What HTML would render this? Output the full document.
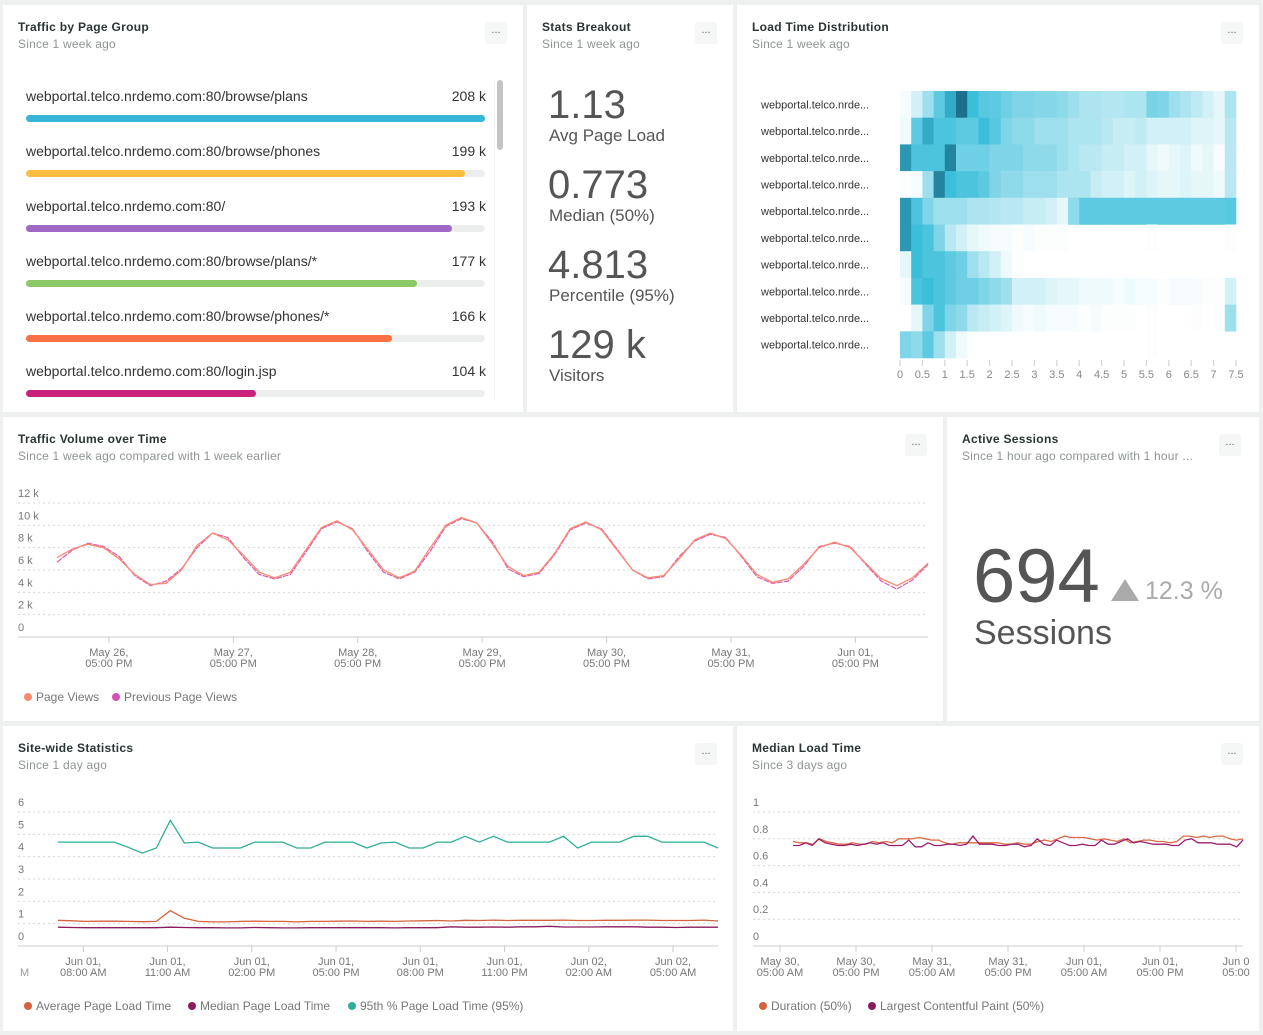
<!DOCTYPE html>
<html><head><meta charset="utf-8">
<style>
body{margin:0;width:1263px;height:1035px;background:#eef0f0;font-family:"Liberation Sans",sans-serif;position:relative;overflow:hidden}
.p{position:absolute;background:#fff}
.t{position:absolute;left:15px;top:15px;font-size:12px;color:#2a3434;font-weight:600;letter-spacing:0.3px}
.s{position:absolute;left:15px;top:32px;font-size:12px;color:#8e9494;white-space:nowrap;letter-spacing:0.2px}
.m{position:absolute;width:22px;height:22px;top:17px;background:#f5f6f6;border-radius:3px;color:#666;font-size:11px;text-align:center;line-height:16px}
.a{position:absolute;white-space:nowrap}
svg{position:absolute;left:0;top:0}
</style></head><body>

<div class="p" style="left:3px;top:5px;width:520px;height:407px;overflow:hidden">
 <div class="t">Traffic by Page Group</div>
 <div class="s">Since 1 week ago</div>
 <div class="m" style="left:482px">...</div>
 <div id="bars"></div>
 <div class="a" style="left:491px;top:75px;width:12px;height:320px;border-left:1px solid #eee"></div>
 <div class="a" style="left:494px;top:75px;width:6px;height:70px;background:#c4c4c4;border-radius:3px"></div>
</div>

<div class="p" style="left:527px;top:5px;width:206px;height:407px">
 <div class="t">Stats Breakout</div>
 <div class="s">Since 1 week ago</div>
 <div class="m" style="left:168px">...</div>
 <div class="a" style="left:21px;top:78px;font-size:40px;color:#555">1.13</div>
 <div class="a" style="left:22px;top:121px;font-size:17px;color:#555">Avg Page Load</div>
 <div class="a" style="left:21px;top:158px;font-size:40px;color:#555">0.773</div>
 <div class="a" style="left:22px;top:201px;font-size:17px;color:#555">Median (50%)</div>
 <div class="a" style="left:21px;top:238px;font-size:40px;color:#555">4.813</div>
 <div class="a" style="left:22px;top:281px;font-size:17px;color:#555">Percentile (95%)</div>
 <div class="a" style="left:21px;top:318px;font-size:40px;color:#555">129 k</div>
 <div class="a" style="left:22px;top:361px;font-size:17px;color:#555">Visitors</div>
</div>

<div class="p" style="left:737px;top:5px;width:522px;height:407px">
 <div class="t">Load Time Distribution</div>
 <div class="s">Since 1 week ago</div>
 <div class="m" style="left:484px">...</div>
</div>

<div class="p" style="left:3px;top:417px;width:940px;height:304px">
 <div class="t">Traffic Volume over Time</div>
 <div class="s">Since 1 week ago compared with 1 week earlier</div>
 <div class="m" style="left:902px">...</div>
</div>

<div class="p" style="left:947px;top:417px;width:312px;height:304px">
 <div class="t">Active Sessions</div>
 <div class="s">Since 1 hour ago compared with 1 hour ...</div>
 <div class="m" style="left:272px">...</div>
 <div class="a" style="left:26px;top:116px;font-size:76px;color:#555">694</div>
 <div class="a" style="left:164px;top:162px;width:0;height:0;border-left:14px solid transparent;border-right:14px solid transparent;border-bottom:22px solid #aaa"></div>
 <div class="a" style="left:198px;top:160px;font-size:25px;color:#aaa">12.3 %</div>
 <div class="a" style="left:27px;top:197px;font-size:34px;color:#555">Sessions</div>
</div>

<div class="p" style="left:3px;top:726px;width:730px;height:305px">
 <div class="t">Site-wide Statistics</div>
 <div class="s">Since 1 day ago</div>
 <div class="m" style="left:692px">...</div>
</div>

<div class="p" style="left:737px;top:726px;width:522px;height:305px">
 <div class="t">Median Load Time</div>
 <div class="s">Since 3 days ago</div>
 <div class="m" style="left:484px">...</div>
</div>

<svg id="g" width="1263" height="1035" style="font-family:'Liberation Sans',sans-serif"></svg>

<script>
const pageNames=["webportal.telco.nrdemo.com:80/browse/plans","webportal.telco.nrdemo.com:80/browse/phones","webportal.telco.nrdemo.com:80/","webportal.telco.nrdemo.com:80/browse/plans/*","webportal.telco.nrdemo.com:80/browse/phones/*","webportal.telco.nrdemo.com:80/login.jsp"];
const pageValues=[208,199,193,177,166,104];
const pageColors=["#36b6d6","#fcbd3f","#a067c4","#8bc967","#fa7044","#c9207b"];
const pageViews=[7.1,7.9,8.3,8.0,7.0,5.6,4.7,4.8,6.0,8.2,9.3,8.7,7.3,5.8,5.3,5.8,7.8,9.8,10.4,9.6,7.8,6.0,5.3,5.9,8.0,10.0,10.7,10.2,8.3,6.3,5.5,5.8,7.5,9.7,10.3,9.6,7.8,6.0,5.3,5.5,7.0,8.7,9.3,8.8,7.3,5.6,4.9,5.2,6.5,8.0,8.5,8.0,6.6,5.2,4.6,5.3,6.6];
const prevPageViews=[6.7,7.8,8.4,8.1,7.2,5.5,4.6,5.0,6.1,8.0,9.3,8.9,7.1,5.6,5.2,5.6,7.6,9.7,10.3,9.7,7.6,5.8,5.2,5.8,7.7,9.9,10.6,10.2,8.5,6.1,5.4,5.7,7.4,9.6,10.2,9.7,7.9,6.0,5.2,5.4,7.2,8.6,9.2,8.9,7.2,5.4,4.8,5.0,6.3,8.1,8.4,8.1,6.5,5.0,4.3,5.1,6.5];
const trafficYTicks=[0,2,4,6,8,10,12];
const trafficXLabels=["May 26,","May 27,","May 28,","May 29,","May 30,","May 31,","Jun 01,"];
const trafficXHours=[10,34,58,82,106,130,154];
const heatRows=["webportal.telco.nrde...","webportal.telco.nrde...","webportal.telco.nrde...","webportal.telco.nrde...","webportal.telco.nrde...","webportal.telco.nrde...","webportal.telco.nrde...","webportal.telco.nrde...","webportal.telco.nrde...","webportal.telco.nrde..."];
const heatTicks=[0,0.5,1,1.5,2,2.5,3,3.5,4,4.5,5,5.5,6,6.5,7,7.5];
const heatBinSize=0.25;
const heatVals=[
[.1,.3,.5,.7,.85,1,.8,.72,.7,.65,.6,.6,.58,.58,.55,.5,.45,.45,.42,.42,.45,.45,.62,.6,.5,.45,.38,.3,.2,.45],
[.15,.7,.85,.75,.75,.7,.7,.8,.72,.6,.55,.55,.5,.5,.5,.45,.45,.45,.4,.35,.35,.38,.3,.3,.3,.3,.25,.25,.2,.4],
[.9,.75,.75,.75,.95,.65,.65,.65,.6,.6,.6,.55,.55,.55,.5,.45,.4,.4,.35,.35,.3,.3,.2,.15,.2,.25,.15,.2,.1,.4],
[.05,.1,.5,.95,.8,.75,.75,.7,.6,.55,.55,.5,.5,.5,.45,.45,.45,.35,.3,.3,.25,.3,.25,.2,.2,.25,.2,.2,.15,.4],
[.9,.75,.6,.5,.5,.5,.45,.45,.42,.4,.4,.35,.35,.3,.2,.55,.7,.7,.7,.7,.7,.7,.7,.7,.7,.7,.7,.7,.7,.72],
[.9,.8,.75,.6,.4,.3,.2,.15,.1,.1,.05,.1,.05,.05,.05,0,0,0,0,0,0,0,.05,0,0,0,0,0,0,.05],
[.2,.8,.75,.75,.7,.65,.5,.4,.3,.15,.05,0,0,0,0,0,0,0,0,0,0,0,0,0,0,0,0,0,0,0],
[.1,.75,.8,.75,.7,.65,.65,.6,.55,.5,.3,.3,.3,.25,.2,.2,.15,.15,.15,.1,.15,.1,.1,.05,.1,.1,.1,.05,.05,.3],
[0,.2,.6,.75,.6,.55,.4,.35,.3,.25,.15,.1,.15,.1,.1,.1,.05,.1,.05,.05,.05,0,.05,0,0,0,.05,0,.05,.5],
[.6,.55,.7,.5,.3,.15,0,0,0,0,0,0,0,0,0,0,0,0,0,0,0,0,.05,0,0,0,0,0,0,0]];
const p95Load=[4.65,4.65,4.65,4.65,4.65,4.42,4.16,4.39,5.63,4.61,4.65,4.39,4.39,4.39,4.65,4.65,4.65,4.39,4.39,4.65,4.65,4.65,4.39,4.61,4.65,4.39,4.39,4.65,4.65,4.91,4.65,4.91,4.65,4.65,4.65,4.65,4.91,4.39,4.65,4.65,4.65,4.91,4.91,4.65,4.65,4.65,4.65,4.39];
const avgLoad=[1.15,1.13,1.1,1.11,1.11,1.1,1.09,1.1,1.58,1.24,1.1,1.08,1.08,1.1,1.11,1.1,1.1,1.08,1.1,1.1,1.11,1.12,1.1,1.11,1.1,1.12,1.13,1.14,1.12,1.15,1.14,1.16,1.14,1.15,1.15,1.15,1.16,1.14,1.14,1.15,1.15,1.16,1.16,1.14,1.14,1.14,1.16,1.12];
const medianLoad=[0.84,0.83,0.82,0.82,0.82,0.82,0.82,0.82,0.84,0.83,0.82,0.82,0.81,0.81,0.83,0.82,0.81,0.81,0.82,0.82,0.82,0.82,0.82,0.82,0.81,0.82,0.82,0.82,0.86,0.84,0.84,0.85,0.84,0.86,0.86,0.88,0.85,0.85,0.85,0.86,0.86,0.86,0.84,0.84,0.83,0.84,0.84,0.84];
const siteYTicks=[0,1,2,3,4,5,6];
const siteXLabels=["08:00 AM","11:00 AM","02:00 PM","05:00 PM","08:00 PM","11:00 PM","02:00 AM","05:00 AM"];
const siteXDates=["Jun 01,","Jun 01,","Jun 01,","Jun 01,","Jun 01,","Jun 01,","Jun 02,","Jun 02,"];
const siteXIdx=[1.8,7.8,13.8,19.8,25.8,31.8,37.8,43.8];
const durationVals=[0.78,0.77,0.77,0.76,0.80,0.78,0.77,0.76,0.76,0.77,0.76,0.76,0.78,0.77,0.78,0.77,0.80,0.80,0.80,0.81,0.80,0.79,0.79,0.77,0.76,0.77,0.77,0.77,0.77,0.77,0.77,0.77,0.76,0.76,0.77,0.76,0.76,0.78,0.79,0.78,0.80,0.82,0.81,0.81,0.81,0.80,0.79,0.80,0.79,0.78,0.80,0.77,0.78,0.79,0.79,0.78,0.78,0.77,0.78,0.82,0.82,0.81,0.82,0.81,0.82,0.82,0.80,0.79,0.80];
const lcpVals=[0.75,0.75,0.77,0.75,0.80,0.77,0.76,0.75,0.75,0.76,0.75,0.76,0.77,0.76,0.77,0.75,0.75,0.75,0.79,0.74,0.74,0.77,0.75,0.75,0.76,0.76,0.75,0.76,0.82,0.76,0.76,0.76,0.75,0.75,0.76,0.76,0.74,0.75,0.80,0.76,0.75,0.79,0.77,0.75,0.75,0.76,0.75,0.75,0.79,0.76,0.76,0.78,0.80,0.77,0.78,0.77,0.76,0.76,0.76,0.75,0.75,0.79,0.80,0.77,0.77,0.77,0.76,0.76,0.76,0.74,0.79];
const medYTicks=[0,0.2,0.4,0.6,0.8,1];
const medXLabels=["May 30,","May 30,","May 31,","May 31,","Jun 01,","Jun 01,","Jun 0"];
const medXTimes=["05:00 AM","05:00 PM","05:00 AM","05:00 PM","05:00 AM","05:00 PM","05:00"];
const medXHours=[-2,10,22,34,46,58,70];

const NS="http://www.w3.org/2000/svg";
const svg=document.getElementById('g');
function mk(tag,attrs,parent){const e=document.createElementNS(NS,tag);for(const k in attrs)e.setAttribute(k,attrs[k]);(parent||svg).appendChild(e);return e;}
function txt(x,y,s,size,fill,anchor){const e=mk('text',{x:x,y:y,'font-size':size,fill:fill,'text-anchor':anchor||'start'});e.textContent=s;return e;}

const barsDiv=document.getElementById('bars');
pageNames.forEach((n,i)=>{
 const y=79+i*55;
 const row=document.createElement('div');
 
 
 row.style.cssText=`position:absolute;left:23px;top:${y}px;width:460px;height:45px`;
 const maxV=pageValues[0];
 row.innerHTML=`<div style="position:absolute;left:0;top:4px;font-size:14px;color:#333;white-space:nowrap">${n}</div><div style="position:absolute;right:0;top:4px;font-size:14px;color:#333">${pageValues[i]} k</div><div style="position:absolute;left:0;top:31px;width:459px;height:7px;border-radius:4px;background:#eceeee"></div><div style="position:absolute;left:0;top:31px;width:${459*pageValues[i]/maxV}px;height:7px;border-radius:4px;background:${pageColors[i]}"></div>`;
 barsDiv.appendChild(row);
});

(function(){
 const x0=900,x1=1236,yTop=91,rh=26.7;
 const xs=v=>x0+(v/7.5)*(x1-x0);
 function col(v){
  if(v<=0)return '#ffffff';
  let a,b,t;
  if(v<=0.8){a=[255,255,255];b=[58,190,218];t=Math.pow(v/0.8,1.5);}else{a=[58,190,218];b=[28,112,140];t=(v-0.8)/0.2;}
  return `rgb(${Math.round(a[0]+(b[0]-a[0])*t)},${Math.round(a[1]+(b[1]-a[1])*t)},${Math.round(a[2]+(b[2]-a[2])*t)})`;
 }
 heatRows.forEach((r,i)=>{
  const cy=yTop+i*rh;
  const l=txt(761,cy+rh/2+4,r,11,'#333');
  
  
  heatVals[i].forEach((v,j)=>{
   if(v<=0)return;
   const c=mk('rect',{x:xs(j*heatBinSize),y:cy,width:xs((j+1)*heatBinSize)-xs(j*heatBinSize)+0.3,height:rh+0.3,fill:col(v)});
   
   
  });
 });
 heatTicks.forEach(t=>{
  mk('line',{x1:xs(t),x2:xs(t),y1:360,y2:366,stroke:'#ccc'});
  const l=txt(xs(t),378,String(t),11,'#888','middle');
  
  
 });
})();

function grid(x0,x1,y){mk('line',{x1:x0,x2:x1,y1:y,y2:y,stroke:'#d5d8d8','stroke-dasharray':'2,3'});}
function path(pts,color,name,w){const p=mk('path',{d:'M'+pts.map(p=>p[0].toFixed(1)+','+p[1].toFixed(1)).join('L'),fill:'none',stroke:color,'stroke-width':w||1.3});return p;}

(function(){
 const X=t=>57+t/168*(928-57), Y=v=>637-v/12*134;
 trafficYTicks.forEach(v=>{if(v>0)grid(18,928,Y(v));const l=txt(18,Y(v)-6,v?v+' k':'0',11,'#777');});
 mk('line',{x1:18,x2:928,y1:637,y2:637,stroke:'#ccc'});
 trafficXHours.forEach((h,i)=>{const x=X(h);mk('line',{x1:x,x2:x,y1:637,y2:643,stroke:'#ccc'});
  const a=txt(x,656,trafficXLabels[i],11,'#777','middle');
  txt(x,667,'05:00 PM',11,'#777','middle');});
 path(prevPageViews.map((v,i)=>[X(i*3),Y(v)]),'#e05aae','previous-page-views-line',1.2).setAttribute('stroke-dasharray','6,1');
 path(pageViews.map((v,i)=>[X(i*3),Y(v)]),'#fb8a6e','page-views-line',1.3);
 const d1=mk('circle',{cx:28,cy:697,r:4,fill:'#fb8a6e'});
 const l1=txt(36,701,'Page Views',12,'#777');
 mk('circle',{cx:116,cy:697,r:4,fill:'#d64fb5'});
 const l2=txt(124,701,'Previous Page Views',12,'#777');
})();

(function(){
 const X=i=>58+i/47*(718-58), Y=v=>946-v/6*134;
 siteYTicks.forEach(v=>{if(v>0)grid(18,718,Y(v));const l=txt(18,Y(v)-6,String(v),11,'#777');});
 mk('line',{x1:18,x2:718,y1:946,y2:946,stroke:'#ccc'});
 siteXIdx.forEach((ix,i)=>{const x=X(ix);mk('line',{x1:x,x2:x,y1:946,y2:952,stroke:'#ccc'});
  const a=txt(x,965,siteXDates[i],11,'#777','middle');
  txt(x,976,siteXLabels[i],11,'#777','middle');});
 txt(20,976,'M',11,'#999');
 path(p95Load.map((v,i)=>[X(i),Y(v)]),'#2fae97','p95-load-line');
 path(avgLoad.map((v,i)=>[X(i),Y(v)]),'#d4623d','average-load-line');
 path(medianLoad.map((v,i)=>[X(i),Y(v)]),'#8b1a5e','median-load-line');
 const items=[[28,'#d4623d','Average Page Load Time'],[192,'#8b1a5e','Median Page Load Time'],[352,'#2fae97','95th % Page Load Time (95%)']];
 items.forEach(it=>{mk('circle',{cx:it[0],cy:1006,r:4,fill:it[1]});const l=txt(it[0]+8,1010,it[2],12,'#777');});
})();

(function(){
 const X=(i,n)=>793+i/(n-1)*(1243-793), Y=v=>946-v*134;
 medYTicks.forEach(v=>{if(v>0)grid(753,1243,Y(v));const l=txt(753,Y(v)-6,String(v),11,'#777');});
 mk('line',{x1:753,x2:1243,y1:946,y2:946,stroke:'#ccc'});
 medXHours.forEach((h,i)=>{const x=780+(h+2)/12*76;mk('line',{x1:x,x2:x,y1:946,y2:952,stroke:'#ccc'});
  const a=txt(x,965,medXLabels[i],11,'#777','middle');
  txt(x,976,medXTimes[i],11,'#777','middle');});
 path(durationVals.map((v,i)=>[X(i,durationVals.length),Y(v)]),'#dd6a45','duration-line');
 path(lcpVals.map((v,i)=>[X(i,lcpVals.length),Y(v)]),'#9b1f6e','lcp-line');
 mk('circle',{cx:763,cy:1006,r:4,fill:'#d4623d'});
 const l1=txt(771,1010,'Duration (50%)',12,'#777');
 mk('circle',{cx:872,cy:1006,r:4,fill:'#8b1a5e'});
 const l2=txt(880,1010,'Largest Contentful Paint (50%)',12,'#777');
})();
</script>
</body></html>
